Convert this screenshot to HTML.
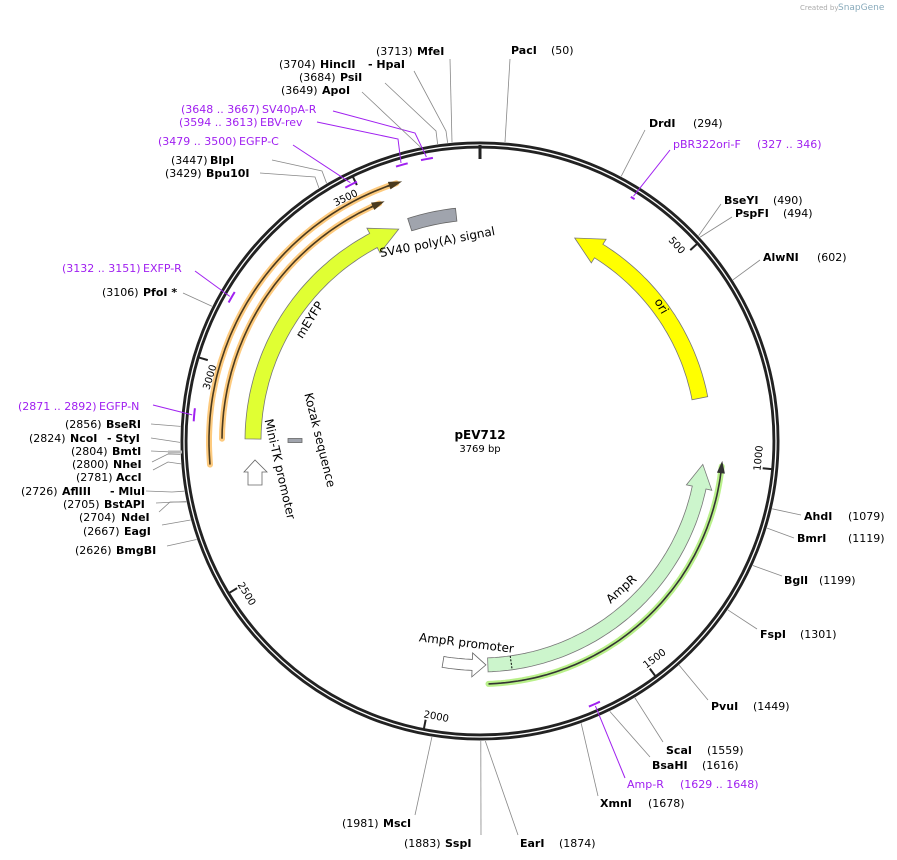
<!DOCTYPE html>
<html><head><meta charset="utf-8"><style>
html,body{margin:0;padding:0;background:#fff;}
svg{display:block;font-family:"DejaVu Sans","Liberation Sans",sans-serif;font-size:11px;}
.b{font-weight:bold;}
.p{fill:#a020f0;}
</style></head><body>
<svg id="s" width="897" height="860" viewBox="0 0 897 860" xmlns="http://www.w3.org/2000/svg">
<text x="800" y="10" font-size="7" fill="#aaa">Created by</text><text x="838" y="10" font-size="9" fill="#8ab">SnapGene</text>
<g id="g"></g>
<text x="480" y="439" text-anchor="middle" class="b" font-size="12">pEV712</text>
<text x="480" y="452" text-anchor="middle" font-size="10">3769 bp</text>
</svg>
<script>
const cx=480,cy=441,N=3769,NS="http://www.w3.org/2000/svg";
const g=document.getElementById('g');
function el(t,a,txt){const e=document.createElementNS(NS,t);for(const k in a)e.setAttribute(k,a[k]);if(txt!==undefined)e.textContent=txt;g.appendChild(e);return e;}
function P(deg,r){const a=deg*Math.PI/180;return [cx+r*Math.sin(a),cy-r*Math.cos(a)];}
function B(bp){return bp/N*360;}
function arcPts(a1,a2,r){const n=Math.max(2,Math.ceil(Math.abs(a2-a1)));const o=[];for(let i=0;i<=n;i++)o.push(P(a1+(a2-a1)*i/n,r));return o;}
function poly(pts){return pts.map(p=>p[0].toFixed(1)+','+p[1].toFixed(1)).join(' ');}
function arrow(tail,tip,r,w,hd,hw,fill,stroke){const s=tip>tail?1:-1;const base=tip-s*hd;
 let pts=arcPts(tail,base,r+w/2);pts.push(P(base,r+hw/2));pts.push(P(tip,r));pts.push(P(base,r-hw/2));
 pts=pts.concat(arcPts(base,tail,r-w/2));el('polygon',{points:poly(pts),fill:fill,stroke:stroke,'stroke-width':0.8});}
function arcPath(a1,a2,r,attrs){el('polyline',Object.assign({points:poly(arcPts(a1,a2,r)),fill:'none'},attrs));}
// backbone
el('circle',{cx:cx,cy:cy,r:296,fill:'none',stroke:'#222','stroke-width':7});
el('circle',{cx:cx,cy:cy,r:296,fill:'none',stroke:'#fff','stroke-width':1.3});
// zero tick
el('line',{x1:480,y1:145,x2:480,y2:159,stroke:'#222','stroke-width':3});
// ticks
[500,1000,1500,2000,2500,3000,3500].forEach(v=>{const a=B(v);const p1=P(a,293),p2=P(a,284);
 el('line',{x1:p1[0],y1:p1[1],x2:p2[0],y2:p2[1],stroke:'#222','stroke-width':2});
 const flip=a>90&&a<270;const rot=flip?a-180:(a>180?a-360:a);const q=P(a+(flip?0.6:-0.6),283);
 el('text',{x:q[0],y:q[1],transform:`rotate(${rot} ${q[0]} ${q[1]})`,'text-anchor':flip?'start':'end','font-size':10,dy:flip?'-1':'9'},String(v));});
// features
arrow(79,25,224,16,7,28,'#ffff00','#777');
arrow(178,96,224,14,6,26,'#ccf5cc','#777');
{const a=P(172,217),b=P(172,231);el('line',{x1:a[0],y1:a[1],x2:b[0],y2:b[1],stroke:'#000','stroke-dasharray':'2,1.5','stroke-width':1});}
arrow(189.5,178.5,224,11,3.5,24,'#fff','#666');
// green thin line
arcPath(178,96,243,{stroke:'#b9f08a','stroke-width':6,'stroke-linecap':'round'});
arcPath(178,96,243,{stroke:'#333','stroke-width':1.6});
arrow(97.5,95,243,1,2.5,7,'#333','#333');
// mEYFP
arrow(270.5,339,227,16,7,28,'#e0ff33','#777');
// orange lines
arcPath(265,342,271,{stroke:'#fdca7e','stroke-width':6,'stroke-linecap':'round'});
arcPath(265,341,271,{stroke:'#4a3a1e','stroke-width':1.6});
arrow(340,343,271,1,2.5,7,'#4a3a1e','#4a3a1e');
arcPath(270.5,337,258,{stroke:'#fdca7e','stroke-width':6,'stroke-linecap':'round'});
arcPath(270.5,336,258,{stroke:'#4a3a1e','stroke-width':1.6});
arrow(335,338,258,1,2.5,7,'#4a3a1e','#4a3a1e');
// SV40 box
{let pts=arcPts(342,354,234).concat(arcPts(354,342,221));el('polygon',{points:poly(pts),fill:'#a0a4ad',stroke:'#666','stroke-width':0.8});}
el('rect',{x:288,y:438.5,width:14,height:4,fill:'#a0a4ad',stroke:'#666','stroke-width':0.8});
el('polygon',{points:'248,485 248,472 244,472 255,460 267,472 262,472 262,485',fill:'#fff',stroke:'#666','stroke-width':0.8});
// feature labels
function lbl(x,y,rot,t,anchor){el('text',{x:x,y:y,transform:`rotate(${rot} ${x} ${y})`,'text-anchor':anchor||'middle','font-size':12},t);}
lbl(658,308,60,'ori');lbl(313,322,-58,'mEYFP');lbl(624,592,-42,'AmpR');lbl(466,647,7,'AmpR promoter');
lbl(438,246,-11,'SV40 poly(A) signal');lbl(316,441,76,'Kozak sequence');lbl(276,470,77,'Mini-TK promoter');
// primer marks
[[335,338],[1629,1648],[2871,2892],[3132,3151],[3479,3500],[3594,3613],[3648,3667]].forEach(m=>{arcPath(B(m[0])-0.3,B(m[1])+0.3,287,{stroke:'#a020f0','stroke-width':2});});
// enzyme labels
function L(bp,lx,ly,parts,pr,mid){const a=B(bp);const p=P(a,pr||300);
 let pts=[p];if(mid)pts.push(mid);pts.push([lx,ly]);
 el('polyline',{points:poly(pts),fill:'none',stroke:parts.purple?'#a020f0':'#888','stroke-width':parts.purple?1:0.8});
 parts.t.forEach(t=>{el('text',{x:t[0],y:t[1],class:(t[3]?'b':'')+(parts.purple?' p':'')},t[2]);});}
const R=(bp,lx,ly,items,pr,mid,purple)=>L(bp,lx,ly,{t:items,purple:purple},pr,mid);
R(50,510,59,[[511,54,'PacI',1],[551,54,'(50)']]);
R(294,645,130,[[649,127,'DrdI',1],[693,127,'(294)']]);
R(336,670,150,[[673,148,'pBR322ori-F'],[757,148,'(327 .. 346)']],289,null,true);
R(490,721,204,[[724,204,'BseYI',1],[773,204,'(490)']]);
R(494,732,217,[[735,217,'PspFI',1],[783,217,'(494)']]);
R(602,760,260,[[763,261,'AlwNI',1],[817,261,'(602)']]);
R(1079,801,515,[[804,520,'AhdI',1],[848,520,'(1079)']]);
R(1119,794,538,[[797,542,'BmrI',1],[848,542,'(1119)']]);
R(1199,782,576,[[784,584,'BglI',1],[819,584,'(1199)']]);
R(1301,757,629,[[760,638,'FspI',1],[800,638,'(1301)']]);
R(1449,708,700,[[711,710,'PvuI',1],[753,710,'(1449)']]);
R(1559,663,742,[[666,754,'ScaI',1],[707,754,'(1559)']]);
R(1616,650,757,[[652,769,'BsaHI',1],[702,769,'(1616)']]);
R(1638,625,778,[[627,788,'Amp-R'],[680,788,'(1629 .. 1648)']],289,null,true);
R(1678,598,796,[[600,807,'XmnI',1],[648,807,'(1678)']]);
R(1874,518,835,[[520,847,'EarI',1],[559,847,'(1874)']]);
R(1883,481,835,[[404,847,'(1883)'],[445,847,'SspI',1]]);
R(1981,415,815,[[342,827,'(1981)'],[383,827,'MscI',1]]);
R(2626,167,546,[[75,554,'(2626)'],[116,554,'BmgBI',1]]);
R(2667,162,525,[[83,535,'(2667)'],[124,535,'EagI',1]]);
R(2704,159,512,[[79,521,'(2704)'],[121,521,'NdeI',1]],300,[170,502]);
R(2705,156,503,[[63,508,'(2705)'],[104,508,'BstAPI',1]]);
R(2726,146,491,[[21,495,'(2726)'],[62,495,'AflIII',1],[110,495,'- MluI',1]],300,[172,492]);
R(2781,153,470,[[76,481,'(2781)'],[116,481,'AccI',1]],300,[168,462]);
R(2800,152,462,[[72,468,'(2800)'],[113,468,'NheI',1]],300,[168,454]);
R(2804,151,451,[[71,455,'(2804)'],[112,455,'BmtI',1]]);
el('line',{x1:168,y1:452,x2:182,y2:452,stroke:'#bbb','stroke-width':3});
R(2824,151,438,[[29,442,'(2824)'],[70,442,'NcoI',1],[107,442,'- StyI',1]]);
R(2856,151,424,[[65,428,'(2856)'],[106,428,'BseRI',1]]);
R(2881,153,405,[[18,410,'(2871 .. 2892)'],[99,410,'EGFP-N']],289,null,true);
R(3106,183,293,[[102,296,'(3106)'],[143,296,'PfoI *',1]]);
R(3141,195,271,[[62,272,'(3132 .. 3151)'],[143,272,'EXFP-R']],289,null,true);
R(3429,260,173,[[165,177,'(3429)'],[206,177,'Bpu10I',1]],300,[315,177]);
R(3447,272,160,[[171,164,'(3447)'],[210,164,'BlpI',1]],300,[322,171]);
R(3490,293,145,[[158,145,'(3479 .. 3500)'],[239,145,'EGFP-C']],289,null,true);
R(3603,317,122,[[179,126,'(3594 .. 3613)'],[260,126,'EBV-rev']],289,[398,139],true);
R(3657,333,111,[[181,113,'(3648 .. 3667)'],[262,113,'SV40pA-R']],289,[415,133],true);
R(3649,362,92,[[281,94,'(3649)'],[322,94,'ApoI',1]]);
R(3684,385,83,[[299,81,'(3684)'],[340,81,'PsiI',1]],300,[436,131]);
R(3704,414,71,[[279,68,'(3704)'],[320,68,'HincII',1],[368,68,'- HpaI',1]],300,[446,131]);
R(3713,450,59,[[376,55,'(3713)'],[417,55,'MfeI',1]]);
</script>
</body></html>
